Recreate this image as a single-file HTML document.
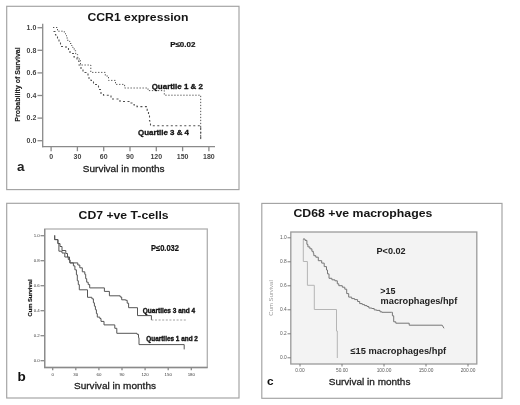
<!DOCTYPE html>
<html><head><meta charset="utf-8">
<style>
html,body{margin:0;padding:0;background:#fff;}
body{width:520px;height:405px;overflow:hidden;}
svg{display:block;filter:blur(0.35px);}
text{font-family:"Liberation Sans",sans-serif;}
.ta{stroke:none;font-size:7px;font-weight:bold;fill:#444;text-anchor:end;}
.tax{stroke:none;font-size:7px;font-weight:bold;fill:#444;text-anchor:middle;}
.tb{stroke:none;font-size:4.4px;fill:#3a3a3a;text-anchor:end;}
.tbx{stroke:none;font-size:4.4px;fill:#3a3a3a;text-anchor:middle;}
.tc{stroke:none;font-size:4.8px;fill:#5a5a5a;text-anchor:end;}
.tcx{stroke:none;font-size:4.8px;fill:#5a5a5a;text-anchor:middle;}
</style></head><body>
<svg width="520" height="405" viewBox="0 0 520 405">
<rect x="0" y="0" width="520" height="405" fill="#fff"/>
<g fill="none" stroke="#a2a2a2" stroke-width="1.15">
<rect x="6.7" y="6.3" width="232.3" height="183.3"/>
<rect x="6.7" y="203.3" width="232.3" height="194.7"/>
<rect x="261.8" y="203.4" width="240.2" height="194.9"/>
</g>
<text x="87.5" y="20.7" font-size="11.30" font-weight="bold" fill="#151515" textLength="101.0" lengthAdjust="spacingAndGlyphs">CCR1 expression</text>
<text x="170.2" y="47.3" font-size="7.60" font-weight="bold" fill="#111" textLength="25.2" lengthAdjust="spacingAndGlyphs" stroke="#111" stroke-width="0.2">P≤0.02</text>
<g stroke="#8a8a8a" stroke-width="1.3" fill="none"><line x1="42.7" y1="23.8" x2="42.7" y2="147.3"/><line x1="42.1" y1="146.7" x2="215" y2="146.7"/><line x1="37.50" y1="27.70" x2="42.70" y2="27.70"/><text x="36.30" y="29.90" class="ta">1.0</text><line x1="37.50" y1="50.30" x2="42.70" y2="50.30"/><text x="36.30" y="52.50" class="ta">0.8</text><line x1="37.50" y1="72.90" x2="42.70" y2="72.90"/><text x="36.30" y="75.10" class="ta">0.6</text><line x1="37.50" y1="95.50" x2="42.70" y2="95.50"/><text x="36.30" y="97.70" class="ta">0.4</text><line x1="37.50" y1="118.10" x2="42.70" y2="118.10"/><text x="36.30" y="120.30" class="ta">0.2</text><line x1="37.50" y1="140.70" x2="42.70" y2="140.70"/><text x="36.30" y="142.90" class="ta">0.0</text><line x1="51.10" y1="146.80" x2="51.10" y2="151.20"/><text x="51.10" y="158.60" class="tax">0</text><line x1="77.40" y1="146.80" x2="77.40" y2="151.20"/><text x="77.40" y="158.60" class="tax">30</text><line x1="103.70" y1="146.80" x2="103.70" y2="151.20"/><text x="103.70" y="158.60" class="tax">60</text><line x1="130.00" y1="146.80" x2="130.00" y2="151.20"/><text x="130.00" y="158.60" class="tax">90</text><line x1="156.30" y1="146.80" x2="156.30" y2="151.20"/><text x="156.30" y="158.60" class="tax">120</text><line x1="182.60" y1="146.80" x2="182.60" y2="151.20"/><text x="182.60" y="158.60" class="tax">150</text><line x1="208.90" y1="146.80" x2="208.90" y2="151.20"/><text x="208.90" y="158.60" class="tax">180</text></g>
<text transform="translate(19.9,84.5) rotate(-90)" font-size="7.4" font-weight="bold" fill="#222" stroke="#222" stroke-width="0.15" text-anchor="middle" textLength="74.5" lengthAdjust="spacingAndGlyphs">Probability of Survival</text>
<text x="82.8" y="172.4" font-size="9.80" fill="#222" textLength="81.8" lengthAdjust="spacingAndGlyphs" stroke="#222" stroke-width="0.3">Survival in months</text>
<text x="16.9" y="171.3" font-size="13.50" font-weight="bold" fill="#222">a</text>
<path d="M53,27.5 H57.5 V31.2 H64.3 V33.5 H65.5 V35.5 H66.5 V38 H67.8 V41.3 H69.8 V43.5 H71.5 V45.5 H72.7 V47.5 H74.2 V50.7 H75.7 V54.6 H77.7 V57.6 H79.2 V60.5 H80.5 V65 H90.8 V72.4 H105.3 V76 H108.5 V80.4 H115.5 V84.4 H124.6 V88 H148 V90.6 H164.3 V95.2 H200.7 V140.5" fill="none" stroke="#555" stroke-width="1" stroke-dasharray="1.3 1.7"/>
<path d="M53.5,31.5 H55.5 V35 H57.5 V39 H59 V43 H60.5 V46.5 H66 V48 H68.5 V50 H70 V53.5 H74 V57 H77 V61 H79 V65 H81 V68.5 H83 V72.5 H88 V78 H91 V80.5 H93.5 V84.5 H98.5 V89.5 H101 V93.5 H103.5 V95.2 H111 V99 H120 V101.5 H131 V103 H134 V105 H137 V106.6 H147.2 V110.5 H148.5 V116 H149.5 V121 H150.5 V125.7 H200.7 V140.5" fill="none" stroke="#505050" stroke-width="1.1" stroke-dasharray="2 2.5"/>
<text x="151.7" y="88.6" font-size="7.50" font-weight="bold" fill="#111" textLength="51.2" lengthAdjust="spacingAndGlyphs" stroke="#111" stroke-width="0.3">Quartile 1 &amp; 2</text>
<text x="138.0" y="135.4" font-size="7.50" font-weight="bold" fill="#111" textLength="51.0" lengthAdjust="spacingAndGlyphs" stroke="#111" stroke-width="0.3">Quartile 3 &amp; 4</text>
<text x="78.6" y="218.9" font-size="11.20" font-weight="bold" fill="#151515" textLength="90.0" lengthAdjust="spacingAndGlyphs">CD7 +ve T-cells</text>
<rect x="44.7" y="229" width="162.6" height="138.5" fill="none" stroke="#b0b0b0" stroke-width="1.3"/>
<g stroke="#8a8a8a" stroke-width="1.3" fill="none"><line x1="44.7" y1="229" x2="44.7" y2="368"/><line x1="44" y1="367.5" x2="207.5" y2="367.5"/><line x1="40.50" y1="235.70" x2="44.50" y2="235.70"/><text x="39.80" y="237.30" class="tb">1.0</text><line x1="40.50" y1="260.70" x2="44.50" y2="260.70"/><text x="39.80" y="262.30" class="tb">0.8</text><line x1="40.50" y1="285.70" x2="44.50" y2="285.70"/><text x="39.80" y="287.30" class="tb">0.6</text><line x1="40.50" y1="310.70" x2="44.50" y2="310.70"/><text x="39.80" y="312.30" class="tb">0.4</text><line x1="40.50" y1="335.70" x2="44.50" y2="335.70"/><text x="39.80" y="337.30" class="tb">0.2</text><line x1="40.50" y1="360.70" x2="44.50" y2="360.70"/><text x="39.80" y="362.30" class="tb">0.0</text><line x1="52.70" y1="367.50" x2="52.70" y2="370.20"/><text x="52.70" y="376.20" class="tbx">0</text><line x1="75.80" y1="367.50" x2="75.80" y2="370.20"/><text x="75.80" y="376.20" class="tbx">30</text><line x1="98.90" y1="367.50" x2="98.90" y2="370.20"/><text x="98.90" y="376.20" class="tbx">60</text><line x1="122.00" y1="367.50" x2="122.00" y2="370.20"/><text x="122.00" y="376.20" class="tbx">90</text><line x1="145.10" y1="367.50" x2="145.10" y2="370.20"/><text x="145.10" y="376.20" class="tbx">120</text><line x1="168.20" y1="367.50" x2="168.20" y2="370.20"/><text x="168.20" y="376.20" class="tbx">150</text><line x1="191.30" y1="367.50" x2="191.30" y2="370.20"/><text x="191.30" y="376.20" class="tbx">180</text></g>
<text transform="translate(32.3,298) rotate(-90)" font-size="5.8" font-weight="bold" fill="#1a1a1a" stroke="#1a1a1a" stroke-width="0.2" text-anchor="middle" textLength="37" lengthAdjust="spacingAndGlyphs">Cum Survival</text>
<text x="151.0" y="250.9" font-size="8.30" font-weight="bold" fill="#111" textLength="28.0" lengthAdjust="spacingAndGlyphs" stroke="#111" stroke-width="0.2">P≤0.032</text>
<path d="M54.7,235.4 V239.6 H57.9 V243.5 H60 V246.5 H62 V250.5 H65.8 V253.5 H67.5 V257 H69.5 V260 H70 V262.9 H77.8 V265 H79.8 V267.8 H82.3 V271.8 H84.8 V274.3 H85.7 V278.7 H86.7 V282.2 H88.2 V284.6 H89.7 V287.9 H104.4 V291.4 H109.4 V295.8 H120.2 V297 H121.7 V299.8 H125.7 V300.3 H127.2 V303.2 H128.6 V307.7 H137.5 V315.6 H151.4 V320" fill="none" stroke="#555" stroke-width="1"/>
<path d="M151.4,320 H186" fill="none" stroke="#888" stroke-width="0.8" stroke-dasharray="2 1.6"/>
<path d="M54.7,235.4 V239.6 H57.9 V243.5 H58.9 V251.2 H62 V253 H64.8 V257 H68.3 V259.6 H69.8 V262.9 H73.4 V265.9 H74.9 V269.8 H76.4 V274.8 H77.3 V280.7 H78.3 V284.6 H79.3 V289.8 H87.5 V297.3 H91.9 V298.8 H93.4 V302.8 H94.4 V306.2 H95.4 V309.7 H96.4 V313.6 H97.3 V317.1 H99.8 V318.5 H101 V321.4 H104 V324.9 H114.8 V328.3 H116.8 V333.3 H137 V334.3 H138.5 V337.7 H139 V344.6 H184.2 V349.4" fill="none" stroke="#555" stroke-width="1"/>
<text x="142.8" y="313.4" font-size="6.40" font-weight="bold" fill="#111" textLength="52.4" lengthAdjust="spacingAndGlyphs" stroke="#111" stroke-width="0.35">Quartiles 3 and 4</text>
<text x="146.3" y="341.0" font-size="6.40" font-weight="bold" fill="#111" textLength="51.6" lengthAdjust="spacingAndGlyphs" stroke="#111" stroke-width="0.35">Quartiles 1 and 2</text>
<text x="74.0" y="389.0" font-size="9.80" fill="#222" textLength="82.0" lengthAdjust="spacingAndGlyphs" stroke="#222" stroke-width="0.3">Survival in months</text>
<text x="17.5" y="381.0" font-size="13.50" font-weight="bold" fill="#111">b</text>
<text x="293.5" y="217.0" font-size="10.80" font-weight="bold" fill="#151515" textLength="138.8" lengthAdjust="spacingAndGlyphs">CD68 +ve macrophages</text>
<rect x="290.8" y="232" width="186" height="132" fill="#f3f3f3" stroke="#9a9a9a" stroke-width="1.3"/>
<g stroke="#707070" stroke-width="0.9" fill="none"><line x1="287.50" y1="237.80" x2="290.80" y2="237.80"/><text x="286.60" y="239.40" class="tc">1.0</text><line x1="287.50" y1="261.80" x2="290.80" y2="261.80"/><text x="286.60" y="263.40" class="tc">0.8</text><line x1="287.50" y1="285.80" x2="290.80" y2="285.80"/><text x="286.60" y="287.40" class="tc">0.6</text><line x1="287.50" y1="309.80" x2="290.80" y2="309.80"/><text x="286.60" y="311.40" class="tc">0.4</text><line x1="287.50" y1="333.80" x2="290.80" y2="333.80"/><text x="286.60" y="335.40" class="tc">0.2</text><line x1="287.50" y1="357.80" x2="290.80" y2="357.80"/><text x="286.60" y="359.40" class="tc">0.0</text><line x1="300.00" y1="364.00" x2="300.00" y2="366.50"/><text x="300.00" y="372.00" class="tcx">0.00</text><line x1="342.00" y1="364.00" x2="342.00" y2="366.50"/><text x="342.00" y="372.00" class="tcx">50.00</text><line x1="384.00" y1="364.00" x2="384.00" y2="366.50"/><text x="384.00" y="372.00" class="tcx">100.00</text><line x1="426.00" y1="364.00" x2="426.00" y2="366.50"/><text x="426.00" y="372.00" class="tcx">150.00</text><line x1="468.00" y1="364.00" x2="468.00" y2="366.50"/><text x="468.00" y="372.00" class="tcx">200.00</text></g>
<text transform="translate(273,298) rotate(-90)" font-size="5.5" fill="#999" text-anchor="middle" textLength="35.5" lengthAdjust="spacingAndGlyphs">Cum Survival</text>
<path d="M303.3,239 V261.5 H307.4 V285.3 H314.3 V309.5 H336.5 V331 H337.3 V358" fill="none" stroke="#b5b5b5" stroke-width="1"/>
<path d="M303.0,239.0 H305.0 V240.4 H306.9 V244.4 H307.9 V246.9 H309.9 V248.8 H311.9 V251.3 H313.3 V253.3 H313.8 V255.7 H315.8 V257.2 H318.3 V260.7 H321.7 V263.1 H324.2 V266.6 H326.5 V270.0 H327.5 V273.9 H329.0 V278.3 H331.9 V279.8 H334.9 V280.8 H337.3 V283.8 H338.8 V285.7 H342.3 V287.2 H344.8 V289.2 H346.7 V293.6 H348.7 V297.1 H351.7 V298.6 H354.6 V299.6 H357.6 V301.5 H359.7 V303.6 H362.3 V304.6 H364.6 V305.6 H367.0 V306.5 H368.9 V308.0 H371.8 V308.5 H374.2 V309.9 H376.6 V310.4 H380.0 V311.8 H381.9 V312.3 H391.5 H392.4 V315.8 H393.7 V321.8 H395.8 V323.2 H409.2 V325.2 H442.2 L444,328.3" fill="none" stroke="#767676" stroke-width="1"/>
<text x="376.5" y="254.0" font-size="9.30" font-weight="bold" fill="#222" textLength="29.1" lengthAdjust="spacingAndGlyphs">P&lt;0.02</text>
<text x="380.2" y="293.5" font-size="9.00" font-weight="bold" fill="#222" textLength="15.2" lengthAdjust="spacingAndGlyphs">&gt;15</text>
<text x="380.6" y="304.2" font-size="9.00" font-weight="bold" fill="#222" textLength="76.6" lengthAdjust="spacingAndGlyphs">macrophages/hpf</text>
<text x="350.4" y="354.4" font-size="9.00" font-weight="bold" fill="#222" textLength="95.8" lengthAdjust="spacingAndGlyphs">≤15 macrophages/hpf</text>
<text x="328.8" y="385.4" font-size="9.90" fill="#222" textLength="81.6" lengthAdjust="spacingAndGlyphs" stroke="#222" stroke-width="0.3">Survival in months</text>
<text x="267.1" y="385.3" font-size="11.80" font-weight="bold" fill="#111">c</text>
</svg>
</body></html>
